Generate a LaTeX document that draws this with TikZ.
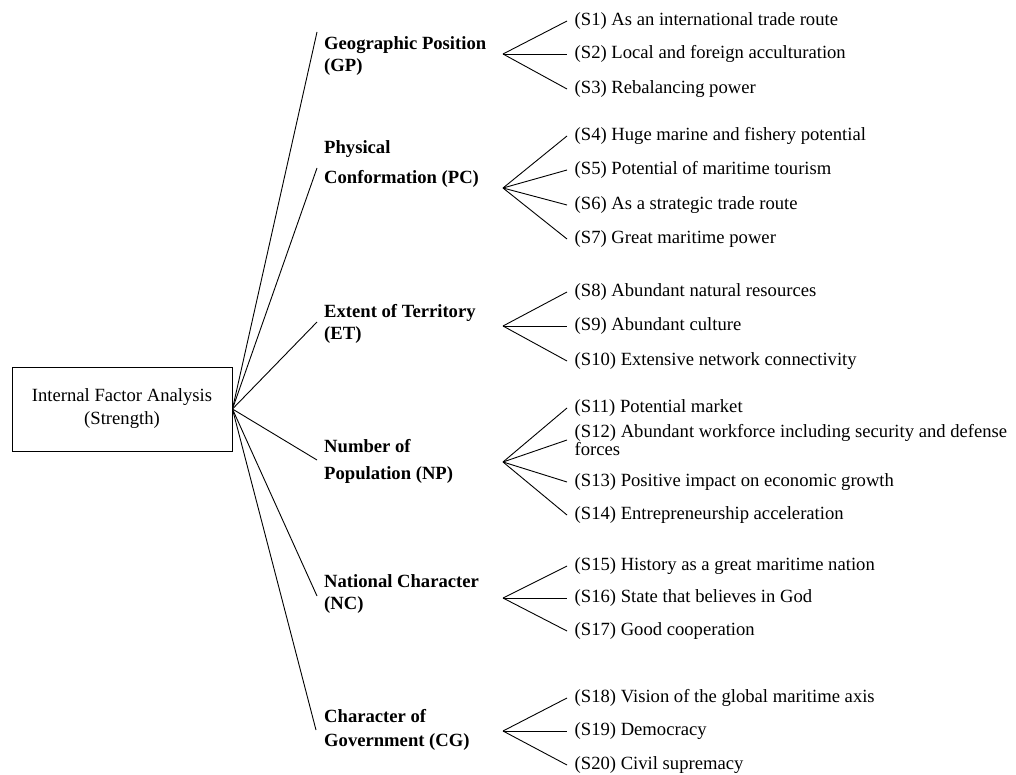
\documentclass[tikz,border=0pt]{standalone}
\usepackage{fontspec}
\setmainfont{Liberation Serif}
\begin{document}
\begin{tikzpicture}[x=1bp,y=-1bp,
  every node/.style={font=\fontsize{18.7}{22}\selectfont, inner sep=3bp},
  item/.style={anchor=west, inner xsep=7.5bp},
  factor/.style={anchor=west, align=left, inner sep=4bp,
    font=\fontsize{18.7}{22}\selectfont\bfseries},
  link/.style={line width=0.9bp}]
\useasboundingbox (0,0) rectangle (1016,775);

% root box
\node[draw, line width=0.9bp, minimum width=220bp, minimum height=84bp,
  align=center, font=\fontsize{18.7}{23}\selectfont] (box) at (122,409)
  {Internal Factor Analysis\\(Strength)};

% factor labels
\node[factor] (gp) at (320,56)  {Geographic Position\\(GP)};
\node[factor] (pc) at (320,164) {Physical\\[8bp]Conformation (PC)};
\node[factor] (et) at (320,324) {Extent of Territory\\(ET)};
\node[factor] (np) at (320,461) {Number of\\[5bp]Population (NP)};
\node[factor] (nc) at (320,594) {National Character\\(NC)};
\node[factor] (cg) at (320,730) {Character of\\[2bp]Government (CG)};

% ends of the links from the root box
\coordinate (gpin) at (317,32);
\coordinate (pcin) at (317,168);
\coordinate (etin) at (317,322);
\coordinate (npin) at (317,460);
\coordinate (ncin) at (317,596);
\coordinate (cgin) at (316,730);

\foreach \f in {gp,pc,et,np,nc,cg}
  \draw[link] (box.east) -- (\f in);

% fan points
\coordinate (gpf) at (503,54);
\coordinate (pcf) at (503,188);
\coordinate (etf) at (503,326);
\coordinate (npf) at (503,462);
\coordinate (ncf) at (503,598);
\coordinate (cgf) at (503,731);

% strengths
\node[item] (s1)  at (567,21)  {(S1) As an international trade route};
\node[item] (s2)  at (567,54)  {(S2) Local and foreign acculturation};
\node[item] (s3)  at (567,89)  {(S3) Rebalancing power};
\node[item] (s4)  at (567,136) {(S4) Huge marine and fishery potential};
\node[item] (s5)  at (567,170) {(S5) Potential of maritime tourism};
\node[item] (s6)  at (567,205) {(S6) As a strategic trade route};
\node[item] (s7)  at (567,239) {(S7) Great maritime power};
\node[item] (s8)  at (567,292) {(S8) Abundant natural resources};
\node[item] (s9)  at (567,326) {(S9) Abundant culture};
\node[item] (s10) at (567,361) {(S10) Extensive network connectivity};
\node[item] (s11) at (567,408) {(S11) Potential market};
\node[item, align=left, font=\fontsize{18.7}{18}\selectfont] (s12) at (567,440)
  {(S12) Abundant workforce including security and defense\\forces};
\node[item] (s13) at (567,482) {(S13) Positive impact on economic growth};
\node[item] (s14) at (567,515) {(S14) Entrepreneurship acceleration};
\node[item] (s15) at (567,566) {(S15) History as a great maritime nation};
\node[item] (s16) at (567,598) {(S16) State that believes in God};
\node[item] (s17) at (567,631) {(S17) Good cooperation};
\node[item] (s18) at (567,698) {(S18) Vision of the global maritime axis};
\node[item] (s19) at (567,731) {(S19) Democracy};
\node[item] (s20) at (567,765) {(S20) Civil supremacy};

% fans
\foreach \s in {1,2,3}        \draw[link] (gpf) -- (s\s.west);
\foreach \s in {4,5,6,7}      \draw[link] (pcf) -- (s\s.west);
\foreach \s in {8,9,10}       \draw[link] (etf) -- (s\s.west);
\foreach \s in {11,12,13,14}  \draw[link] (npf) -- (s\s.west);
\foreach \s in {15,16,17}     \draw[link] (ncf) -- (s\s.west);
\foreach \s in {18,19,20}     \draw[link] (cgf) -- (s\s.west);
\end{tikzpicture}
\end{document}
